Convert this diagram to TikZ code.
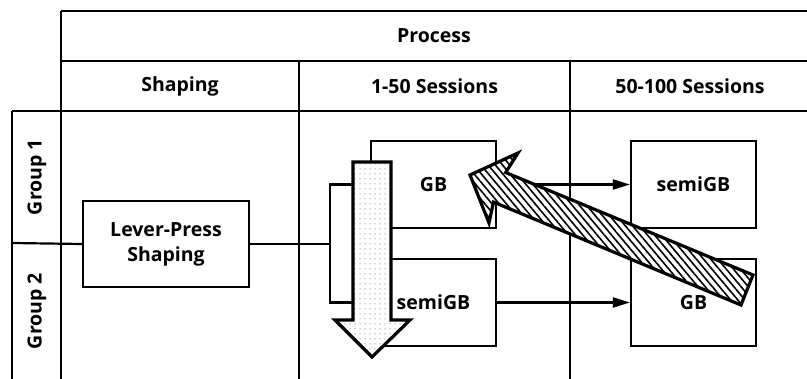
\documentclass[tikz,border=0pt]{standalone}
\usepackage{fontspec}
\setmainfont{Open Sans}
\usetikzlibrary{arrows.meta, positioning, patterns.meta}
\newcommand{\diagfont}{\fontsize{19.5}{25}\selectfont\bfseries}
\tikzset{
  grid/.style={line width=2.2pt},
  stagebox/.style={rectangle,draw,line width=2.2pt,fill=white,align=center,
    minimum width=125pt,minimum height=87pt,font=\diagfont},
  arrow/.style={-{Triangle[length=17pt,width=10pt]},line width=2.2pt},
  dotarrow/.style={draw,line width=3.2pt,preaction={fill=white},
    pattern={Dots[distance=5pt,radius=0.5pt]},pattern color=black!75},
  hatcharrow/.style={draw,line width=3.2pt,preaction={fill=white},
    pattern={Lines[angle=-50,distance=5.5pt,line width=1.6pt]}},
}
\begin{document}
\begin{tikzpicture}[x=1pt,y=-1pt,font=\diagfont]
    \useasboundingbox (0,0) rectangle (807,379);
    % table
    \draw[grid] (61,11) -- (807,11);
    \draw[grid] (61,61) -- (807,61);
    \draw[grid] (12,111) -- (807,111);
    \draw[grid] (12,111) -- (12,379);
    \draw[grid] (61,11) -- (61,379);
    \draw[grid] (299,61) -- (299,379);
    \draw[grid] (570,61) -- (570,379);
    \node (process) at (434,36) {Process};
    \node (shaping) at (180,86) {Shaping};
    \node (early) at (434.5,86) {1-50 Sessions};
    \node (late) at (690,86) {50-100 Sessions};
    \node[rotate=90] (grpA) at (37,177) {Group 1};
    \node[rotate=90] (grpB) at (37,311) {Group 2};
    % stages
    \node[stagebox,minimum width=166pt,minimum height=86pt] (lever) at (166,244) {Lever-Press\\Shaping};
    \node[stagebox] (gbA) at (433.5,184.5) {GB};
    \node[stagebox] (semiA) at (433.5,302.5) {semiGB};
    \node[stagebox] (semiB) at (693.5,184.5) {semiGB};
    \node[stagebox] (gbB) at (693.5,302.5) {GB};
    \coordinate (split) at (12,243);
    \coordinate (fork) at (330,244);
    \draw[grid] (split) -- (lever.west);
    \draw[grid] (lever.east) -- (fork);
    \draw[grid] (gbA.west) -| (fork) |- (semiA.west);
    \draw[arrow] (gbA.east) -- (semiB.west);
    \draw[arrow] (semiA.east) -- (gbB.west);
    % block arrows
    \draw[dotarrow] (353,162) -- (391,162) -- (391,320) -- (410,320) -- (372,357)
      -- (335,320) -- (353,320) -- cycle;
    \draw[hatcharrow] (470,175) -- (518,153) -- (505.7,172.5) -- (753,275)
      -- (741,305) -- (493.5,202.1) -- (489,223) -- cycle;
\end{tikzpicture}
\end{document}
